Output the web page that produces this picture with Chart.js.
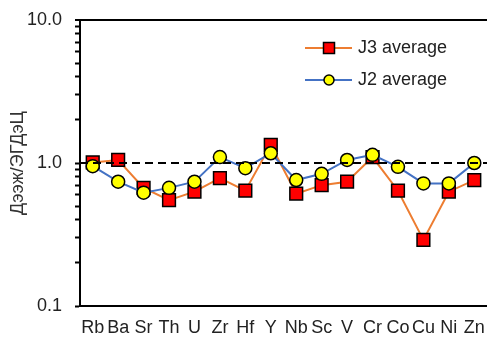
<!DOCTYPE html>
<html>
<head>
<meta charset="utf-8">
<script src="https://cdn.jsdelivr.net/npm/chart.js@4/dist/chart.umd.min.js"></script>
<style>
  html, body { margin: 0; padding: 0; background: #fff; }
  #wrap { width: 487px; height: 337px; }
</style>
</head>
<body>
<div id="wrap"><canvas id="chart" width="487" height="337"></canvas></div>
<script>
// elements along the x axis
const elements = ["Rb", "Ba", "Sr", "Th", "U", "Zr", "Hf", "Y", "Nb", "Sc", "V", "Cr", "Co", "Cu", "Ni", "Zn"];

// normalised values
const j3Average = [1.01, 1.05, 0.67, 0.55, 0.63, 0.785, 0.64, 1.34, 0.61, 0.70, 0.74, 1.10, 0.64, 0.29, 0.63, 0.76];
const j2Average = [0.95, 0.74, 0.62, 0.67, 0.74, 1.10, 0.92, 1.17, 0.76, 0.84, 1.05, 1.14, 0.94, 0.72, 0.72, 1.00];

const yMajorTicks = [0.1, 1, 10];
const yMinorTicks = [0.2, 0.3, 0.4, 0.5, 0.6, 0.7, 0.8, 0.9, 2, 3, 4, 5, 6, 7, 8, 9];
const referenceLevel = 1;

const FONT = "'Liberation Sans', Arial, sans-serif";

// dashed line at 1.0 plus the line+marker legend
const extras = {
    id: "extras",
    afterDatasetsDraw(chart) {
        const ctx = chart.ctx;
        const area = chart.chartArea;
        const y = chart.scales.y.getPixelForValue(referenceLevel);
        ctx.save();
        ctx.strokeStyle = "#000";
        ctx.lineWidth = 2;
        ctx.setLineDash([8, 5]);
        ctx.beginPath();
        ctx.moveTo(area.left, y);
        ctx.lineTo(area.right, y);
        ctx.stroke();
        ctx.restore();
    },
    afterDraw(chart) {
        const ctx = chart.ctx;
        const items = [chart.data.datasets[1], chart.data.datasets[0]];
        ctx.save();
        items.forEach((ds, i) => {
            const y = 48 + i * 32;
            ctx.strokeStyle = ds.borderColor;
            ctx.lineWidth = 2;
            ctx.beginPath();
            ctx.moveTo(305, y);
            ctx.lineTo(352, y);
            ctx.stroke();
            ctx.fillStyle = ds.pointBackgroundColor;
            ctx.strokeStyle = "#000";
            ctx.lineWidth = 1.5;
            if (ds.pointStyle === "rect") {
                ctx.fillRect(323.5, y - 5.5, 11, 11);
                ctx.strokeRect(323.5, y - 5.5, 11, 11);
            } else {
                ctx.beginPath();
                ctx.arc(329, y, 5, 0, Math.PI * 2);
                ctx.fill();
                ctx.stroke();
            }
            ctx.fillStyle = "#222";
            ctx.font = "18px " + FONT;
            ctx.textBaseline = "middle";
            ctx.fillText(ds.label, 358, y);
        });
        ctx.restore();
    }
};

new Chart(document.getElementById("chart"), {
    type: "line",
    data: {
        labels: elements,
        datasets: [
            {
                label: "J2 average",
                data: j2Average,
                borderColor: "#4472C4",
                borderWidth: 2,
                pointStyle: "circle",
                pointRadius: 6.5,
                pointBackgroundColor: "#FFFF00",
                pointBorderColor: "#000",
                pointBorderWidth: 1.5,
                tension: 0
            },
            {
                label: "J3 average",
                data: j3Average,
                borderColor: "#ED7D31",
                borderWidth: 2,
                pointStyle: "rect",
                pointRadius: 9,
                pointBackgroundColor: "#FF0000",
                pointBorderColor: "#000",
                pointBorderWidth: 1.5,
                tension: 0
            }
        ]
    },
    options: {
        responsive: false,
        animation: false,
        layout: { autoPadding: false, padding: { top: 20, right: 0, left: 0, bottom: 0 } },
        plugins: {
            legend: { display: false },
            tooltip: { enabled: false }
        },
        scales: {
            x: {
                offset: true,
                grid: { display: false, drawTicks: false },
                border: { color: "#000", width: 2 },
                ticks: {
                    color: "#222",
                    padding: 11,
                    maxRotation: 0,
                    autoSkip: false,
                    font: { family: FONT, size: 18 }
                },
                afterFit(scale) {
                    scale.height = 31;
                    scale.paddingLeft = 0;
                    scale.paddingRight = 0;
                }
            },
            y: {
                type: "logarithmic",
                min: 0.1,
                max: 10,
                border: { color: "#000", width: 2 },
                grid: {
                    drawOnChartArea: true,
                    color: c => (c.tick && c.tick.value === 10 ? "#000" : "rgba(0,0,0,0)"),
                    lineWidth: c => (c.tick && c.tick.value === 10 ? 2 : 1),
                    tickColor: "#000",
                    tickWidth: 2,
                    tickLength: 5
                },
                afterBuildTicks(scale) {
                    scale.ticks = yMajorTicks.concat(yMinorTicks)
                        .sort((a, b) => a - b)
                        .map(v => ({ value: v, major: yMajorTicks.includes(v) }));
                },
                ticks: {
                    autoSkip: false,
                    color: "#222",
                    padding: 13,
                    font: { family: FONT, size: 18 },
                    callback: v => (yMajorTicks.some(m => Math.abs(m - v) < 1e-9) ? v.toFixed(1) : "")
                },
                title: {
                    display: true,
                    text: "Дээж/ЭГДэЦ",
                    color: "#333",
                    padding: { top: 7, bottom: 0 },
                    font: { family: FONT, size: 18 }
                },
                afterFit(scale) {
                    scale.width = 80;
                    scale.paddingTop = 0;
                    scale.paddingBottom = 0;
                }
            }
        }
    },
    plugins: [extras]
});
</script>
</body>
</html>
